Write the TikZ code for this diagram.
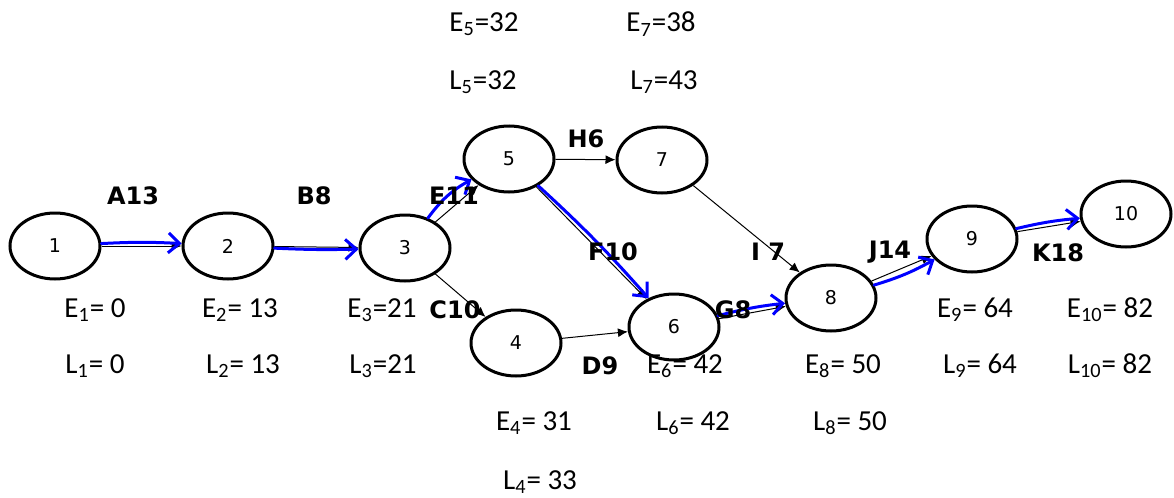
\documentclass[tikz,border=0pt]{standalone}
\usepackage{fontspec}
\setmainfont{Carlito}
\newfontfamily\djv{DejaVu Sans}
\usetikzlibrary{arrows.meta,shapes.geometric}
\begin{document}
\begin{tikzpicture}[x=0.5pt,y=-0.5pt,
  event/.style={draw,line width=1.5pt,ellipse,minimum width=45pt,minimum height=33pt,inner sep=0pt,font=\djv\fontsize{9.5}{11}\selectfont},
  act/.style={font=\djv\bfseries\fontsize{12}{14}\selectfont,inner sep=0pt},
  val/.style={font=\fontsize{14.5}{16}\selectfont,inner sep=0pt},
  thin/.style={draw,line width=0.5pt,-{Latex[length=5pt,width=4.5pt]}},
  crit/.style={draw=blue,line width=1.5pt,line cap=round,-{Straight Barb[length=5.5pt,width=10pt,line width=1.5pt]}}
]
\useasboundingbox (0,0) rectangle (1174,498);

% events
\node[event] (n1)  at (55,246)   {1};
\node[event] (n2)  at (228,246)  {2};
\node[event] (n3)  at (405,248)  {3};
\node[event] (n4)  at (516,343)  {4};
\node[event] (n5)  at (509,159)  {5};
\node[event] (n6)  at (674,327)  {6};
\node[event] (n7)  at (662,160)  {7};
\node[event] (n8)  at (831,298)  {8};
\node[event] (n9)  at (972,239)  {9};
\node[event] (n10) at (1126,214) {10};

% activities
\draw[thin] (n1) -- (n2);
\draw[thin] (n2) -- (n3);
\draw[thin] (n3) -- (n5);
\draw[thin] (n3) -- (n4);
\draw[thin] (n5) -- (n7);
\draw[thin] (n5) -- (n6);
\draw[thin] (n4) -- (n6);
\draw[thin] (n7) -- (n8);
\draw[thin] (n6) -- (n8);
\draw[thin] (n8) -- (n9);
\draw[thin] (n9) -- (n10);

% critical path
\draw[crit] (n1) to[bend left=3] (n2);
\draw[crit] (n2) to[bend right=2] (n3);
\draw[crit] (n3) to[bend left=12] (n5);
\draw[crit] (n5) to[bend left=3] (n6);
\draw[crit] (n6) to[bend left=4] (n8);
\draw[crit] (n8) to[bend right=6] (n9);
\draw[crit] (n9) to[bend left=4] (n10);

% activity labels
\node[act] (la) at (133,196) {A13};
\node[act] (lb) at (314,196) {B8};
\node[act] (le) at (454,196) {E11};
\node[act] (lh) at (586,139) {H6};
\node[act] (lf) at (613,252) {F10};
\node[act] (li) at (768,252) {I 7};
\node[act] (lj) at (890,252) {J14};
\node[act] (lk) at (1058,253) {K18};
\node[act] (lc) at (455,310) {C10};
\node[act] (lg) at (733,310) {G8};
\node[act] (ld) at (600,366) {D9};

% earliest / latest times
\node[val] (e5) at (484,24) {E\textsubscript{5}=32};
\node[val] (l5) at (483,82) {L\textsubscript{5}=32};
\node[val] (e7) at (661,24) {E\textsubscript{7}=38};
\node[val] (l7) at (664,82) {L\textsubscript{7}=43};
\node[val] (e1) at (95,310) {E\textsubscript{1}= 0};
\node[val] (l1) at (95,366) {L\textsubscript{1}= 0};
\node[val] (e2) at (240,310) {E\textsubscript{2}= 13};
\node[val] (l2) at (243,366) {L\textsubscript{2}= 13};
\node[val] (e3) at (382,310) {E\textsubscript{3}=21};
\node[val] (l3) at (383,366) {L\textsubscript{3}=21};
\node[val] (e4) at (534,423) {E\textsubscript{4}= 31};
\node[val] (l4) at (540,482) {L\textsubscript{4}= 33};
\node[val] (e6) at (685,366) {E\textsubscript{6}= 42};
\node[val] (l6) at (693,423) {L\textsubscript{6}= 42};
\node[val] (e8) at (843,366) {E\textsubscript{8}= 50};
\node[val] (l8) at (850,423) {L\textsubscript{8}= 50};
\node[val] (e9) at (975,310) {E\textsubscript{9}= 64};
\node[val] (l9) at (980,366) {L\textsubscript{9}= 64};
\node[val] (e10) at (1110,310) {E\textsubscript{10}= 82};
\node[val] (l10) at (1110,366) {L\textsubscript{10}= 82};
\end{tikzpicture}
\end{document}
